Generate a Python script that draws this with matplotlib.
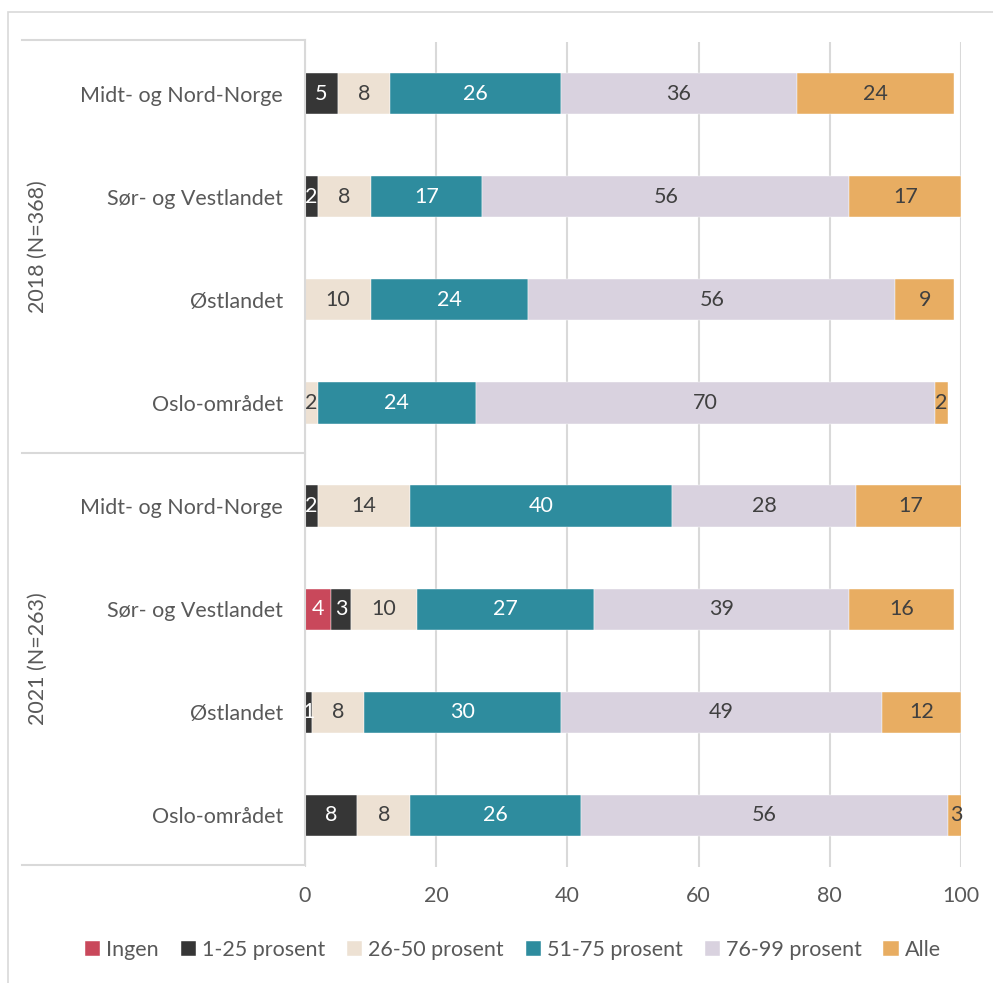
import matplotlib
matplotlib.use("Agg")
import matplotlib.pyplot as plt
from matplotlib.lines import Line2D
from matplotlib.patches import Rectangle
import numpy as np

plt.rcParams['font.family'] = ['Lato', 'DejaVu Sans']

categories = ["Midt- og Nord-Norge", "Sør- og Vestlandet", "Østlandet", "Oslo-området",
              "Midt- og Nord-Norge", "Sør- og Vestlandet", "Østlandet", "Oslo-området"]
groups = ["2018 (N=368)", "2021 (N=263)"]
series_names = ["Ingen", "1-25 prosent", "26-50 prosent", "51-75 prosent", "76-99 prosent", "Alle"]
ingen = [0, 0, 0, 0, 0, 4, 0, 0]
p1_25 = [5, 2, 0, 0, 2, 3, 1, 8]
p26_50 = [8, 8, 10, 2, 14, 10, 8, 8]
p51_75 = [26, 17, 24, 24, 40, 27, 30, 26]
p76_99 = [36, 56, 56, 70, 28, 39, 49, 56]
alle = [24, 17, 9, 2, 16.6, 16, 12, 2.6]
xticks = [0, 20, 40, 60, 80, 100]

colors = ["#C9485B", "#363636", "#EDE1D3", "#2E8C9E", "#D9D2DF", "#E8AD62"]
label_colors = ["white", "white", "#404040", "white", "#404040", "#404040"]
txt = "#595959"
FS = 15.5

W, H = 993, 983
fig = plt.figure(figsize=(W / 100, H / 100), dpi=100)
ax = fig.add_axes([305 / W, 1 - 867 / H, (961 - 305) / W, (867 - 42) / H])

data = [ingen, p1_25, p26_50, p51_75, p76_99, alle]
y = np.arange(len(categories))
left = np.zeros(len(categories))
for vals, name, c, lc in zip(data, series_names, colors, label_colors):
    vals = np.array(vals, dtype=float)
    ax.barh(y, vals, left=left, height=0.4, color=c, label=name, zorder=3,
            edgecolor="white", linewidth=0.3)
    for yi, (l, v) in enumerate(zip(left, vals)):
        if v > 0:
            ax.text(l + v / 2, yi, f"{v:.0f}", ha="center", va="center",
                    color=lc, fontsize=FS, zorder=4)
    left += vals

ax.set_ylim(len(categories) - 0.5, -0.5)
ax.set_xlim(0, 100)
ax.set_xticks(xticks)
ax.set_xticklabels([str(t) for t in xticks])
ax.set_yticks(y)
ax.set_yticklabels(categories)
ax.tick_params(axis="both", length=0, colors=txt, labelsize=FS)
ax.tick_params(axis="y", pad=16)
ax.tick_params(axis="x", pad=14)
for s in ax.spines.values():
    s.set_visible(False)
ax.grid(axis="x", color="#D9D9D9", linewidth=1.5, zorder=0)
ax.set_axisbelow(True)

# category axis lines
lc_ = "#D9D9D9"
def fx(px):
    return px / W
def fy(py):
    return 1 - py / H
fig.add_artist(Line2D([fx(305), fx(305)], [fy(40), fy(865)], color=lc_, lw=1.5))
for py in [40, 453, 865]:
    fig.add_artist(Line2D([fx(22), fx(305)], [fy(py), fy(py)], color=lc_, lw=1.5))
fig.text(fx(38), fy(247), groups[0], rotation=90, ha="center", va="center", color=txt, fontsize=FS)
fig.text(fx(38), fy(659), groups[1], rotation=90, ha="center", va="center", color=txt, fontsize=FS)

# figure border
fig.add_artist(Rectangle((fx(8), fy(990)), fx(1000), fy(12) - fy(990), fill=False,
                         edgecolor="#D9D9D9", lw=1.2))

fig.legend(loc="center", bbox_to_anchor=(fx(513), fy(950)), ncol=6, frameon=False,
           fontsize=FS, handlelength=0.7, handleheight=0.7, handletextpad=0.3,
           columnspacing=1.0, labelcolor=txt)

fig.savefig("out.png", dpi=100)
